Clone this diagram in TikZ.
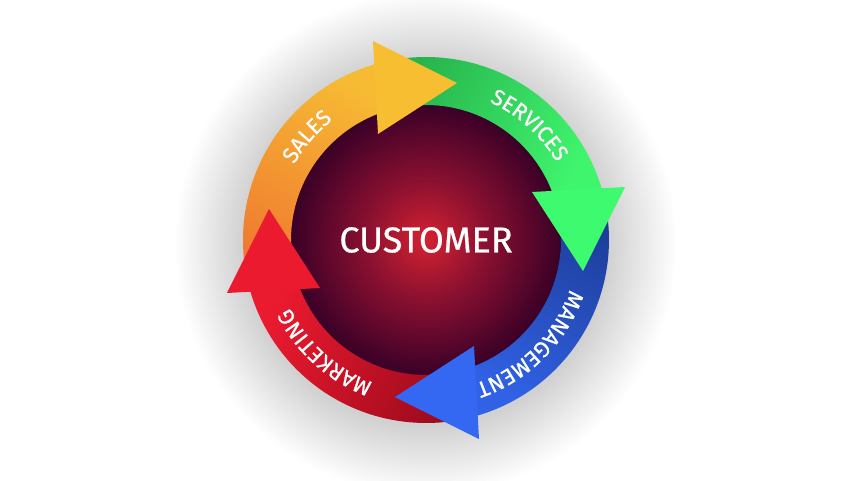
\documentclass[tikz,border=0pt]{standalone}
\usepackage{fontspec}
\setmainfont{Fira Sans}[FakeBold=0.6]
\usetikzlibrary{decorations.text}
\definecolor{salesA}{HTML}{EF7830}
\definecolor{salesB}{HTML}{F7BA33}
\definecolor{salesH}{HTML}{F8BE32}
\definecolor{servA}{HTML}{26B04B}
\definecolor{servB}{HTML}{40F56E}
\definecolor{servH}{HTML}{3EFA6E}
\definecolor{mgmtA}{HTML}{1C3C96}
\definecolor{mgmtB}{HTML}{3162E6}
\definecolor{mgmtH}{HTML}{3468F2}
\definecolor{mktA}{HTML}{9C0A1C}
\definecolor{mktB}{HTML}{EA1A2F}
\definecolor{mktH}{HTML}{EC1A2F}
\definecolor{coreC}{HTML}{D42230}
\definecolor{coreM}{HTML}{8A1030}
\definecolor{coreE}{HTML}{380027}
\pgfdeclareradialshading{coreshade}{\pgfpoint{0bp}{0bp}}{color(0bp)=(coreC); color(11bp)=(coreM); color(25bp)=(coreE); color(50bp)=(coreE)}
\newcommand\ringseg[7]{%
  \shade[top color=#6, bottom color=#5, shading angle=#7]
    (#1:183) arc[start angle=#1, end angle=#3, radius=183]
    -- (#4:135) arc[start angle=#4, end angle=#2, radius=135] -- cycle;}
\newcommand\ringlabel[3]{%
  \path[decorate, decoration={text along path, text align=center,
    text={|\color{#3}\fontsize{22}{22}\selectfont|#2}}]
    (#1+50:152) arc[start angle=#1+50, end angle=#1-50, radius=152];}
\tikzset{
  maintext/.style={text=white, font=\fontsize{36}{36}\selectfont, inner sep=0pt}
}
\begin{document}
\begin{tikzpicture}[x=1pt,y=1pt]
\fill[white] (-426,-240) rectangle (426,240);
\useasboundingbox (-426,-240) rectangle (426,240);
% soft shadow
\foreach \r in {250,247,...,184} \fill[black, fill opacity=0.006] (0,-4) circle[radius=\r];
% core
\shade[shading=coreshade] (0,0) circle[radius=137];
% ring segments
\ringseg{195.4}{200.3}{104.4}{109.3}{salesA}{salesB}{-27}
\ringseg{105.4}{110.3}{14.4}{19.3}{servA}{servB}{-117}
\ringseg{15.4}{20.3}{-75.6}{-70.7}{mgmtA}{mgmtB}{-207}
\ringseg{-74.6}{-69.7}{-165.6}{-160.7}{mktA}{mktB}{-297}
% heads
\fill[salesH] (-53,199) coordinate (sh1) -- (31,157) coordinate (sh2) -- (-48,106) coordinate (sh3) -- cycle;
\fill[servH] (199,53) coordinate (vh1) -- (157,-31) coordinate (vh2) -- (106,48) coordinate (vh3) -- cycle;
\fill[mgmtH] (53,-199) coordinate (mh1) -- (-31,-157) coordinate (mh2) -- (48,-106) coordinate (mh3) -- cycle;
\fill[mktH] (-199,-53) coordinate (kh1) -- (-157,31) coordinate (kh2) -- (-106,-48) coordinate (kh3) -- cycle;
% labels
\ringlabel{139}{SALES}{white}
\ringlabel{48}{SERVICES}{white}
\ringlabel{-45}{MANAGEMENT}{white}
\ringlabel{-132}{MARKETING}{white}
\node[maintext] (customer) at (0,0) {CUSTOMER};
\end{tikzpicture}
\end{document}
